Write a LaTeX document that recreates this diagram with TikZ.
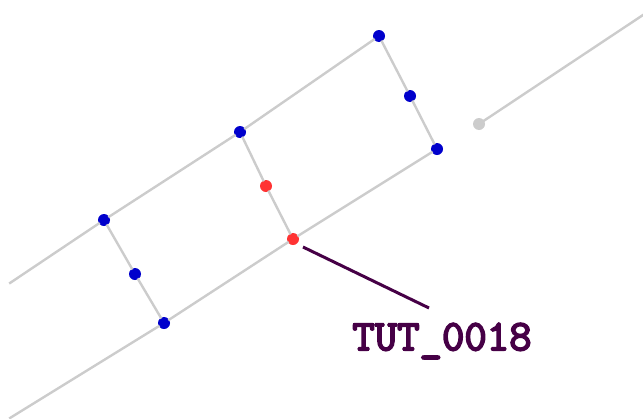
\documentclass[tikz,border=0pt]{standalone}
\usepackage{fontspec}
\usepackage{xcolor}
\usepackage{tikz}
\usetikzlibrary{positioning}
\newfontfamily\tagfont[FakeBold=4]{Latin Modern Mono}
\definecolor{wayblue}{RGB}{0,0,204}
\definecolor{wayred}{RGB}{255,51,51}
\definecolor{waygrey}{RGB}{204,204,204}
\definecolor{waypurple}{RGB}{70,0,70}

\begin{document}
\begin{tikzpicture}[x=1pt, y=-1pt,
  bluept/.style={circle, fill=wayblue, inner sep=0pt, minimum size=12pt},
  redpt/.style={circle, fill=wayred, inner sep=0pt, minimum size=12pt},
  greypt/.style={circle, fill=waygrey, inner sep=0pt, minimum size=12pt},
  way/.style={draw=waygrey, line width=2.4pt, shorten >=-1pt, shorten <=-1pt},
  leader/.style={draw=waypurple, line width=3pt},
  tag/.style={text=waypurple, font=\fontsize{43.5}{43.5}\selectfont\tagfont, inner sep=0pt}
]
\useasboundingbox (0,0) rectangle (643,418);
\node[bluept] (top1) at (379,36) {};
\node[bluept] (top2) at (240,132) {};
\node[bluept] (top3) at (104,220) {};
\node[bluept] (low1) at (437,149) {};
\node[redpt] (low2) at (293,239) {};
\node[bluept] (low3) at (164,323) {};
\node[bluept] (mid1) at (410,96) {};
\node[redpt] (mid2) at (266,186) {};
\node[bluept] (mid3) at (135,274) {};
\node[greypt] (stub) at (479,124) {};
\coordinate (topend) at (10,283);
\coordinate (lowend) at (10,418);
\coordinate (stubend) at (643,15);
\coordinate (leadstart) at (303,247);
\coordinate (leadend) at (429,308);
\node[tag] (label) at (442,341) {TUT\_0018};
\draw[way] (top1) -- (top2);
\draw[way] (top2) -- (top3);
\draw[way] (top3) -- (topend);
\draw[way] (low1) -- (low2);
\draw[way] (low2) -- (low3);
\draw[way] (low3) -- (lowend);
\draw[way] (top1) -- (mid1);
\draw[way] (mid1) -- (low1);
\draw[way] (top2) -- (mid2);
\draw[way] (mid2) -- (low2);
\draw[way] (top3) -- (mid3);
\draw[way] (mid3) -- (low3);
\draw[way] (stub) -- (stubend);
\draw[leader] (leadstart) -- (leadend);
\end{tikzpicture}
\end{document}
